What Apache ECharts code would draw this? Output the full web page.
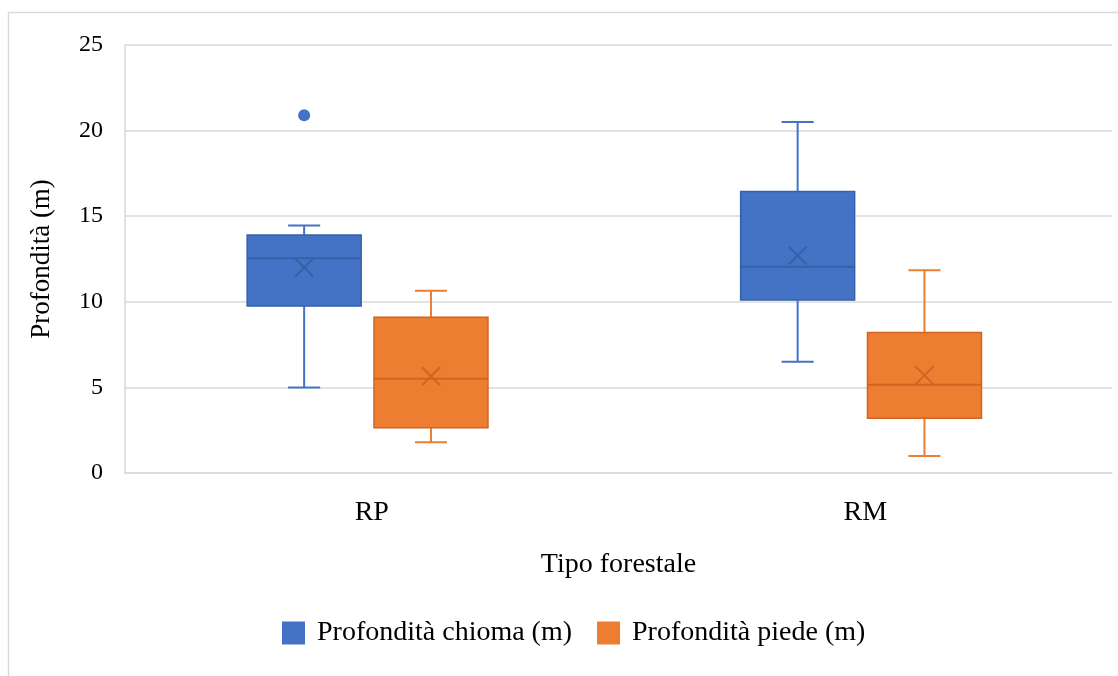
<!DOCTYPE html>
<html>
<head>
<meta charset="utf-8">
<script src="https://cdn.jsdelivr.net/npm/echarts@6/dist/echarts.min.js"></script>
<style>
  html, body { margin: 0; padding: 0; background: #fff; }
  #main { width: 1118px; height: 676px; }
</style>
</head>
<body>
<div id="main"></div>
<script>
// dati: [min, Q1, mediana, Q3, max]
var categories = ['RP', 'RM'];
var chiomaBox = [[5.0, 9.75, 12.55, 13.9, 14.45], [6.5, 10.1, 12.05, 16.45, 20.5]];
var chiomaMean = [12.0, 12.7];
var chiomaOutliers = [[0, 20.9]];
var piedeBox = [[1.8, 2.65, 5.5, 9.1, 10.65], [1.0, 3.2, 5.15, 8.2, 11.85]];
var piedeMean = [5.65, 5.7];
var yTicks = [0, 5, 10, 15, 20, 25];

var FONT = 'Liberation Serif';
var BOX_W = 0.231, CAP_W = 0.065;

function boxData(box, mean) {
    return box.map(function (b, i) { return [i].concat(b).concat([mean[i]]); });
}

function boxRenderer(off, fill, edge, whisk) {
    return function (params, api) {
        var i = api.value(0);
        var band = api.size([1, 0])[0];
        var cx = api.coord([i, 0])[0] + band * off;
        var w = band * BOX_W, c = band * CAP_W;
        var y = [1, 2, 3, 4, 5, 6].map(function (d) { return api.coord([i, api.value(d)])[1]; });
        var m = 9;
        var ls = { stroke: whisk, lineWidth: 2 };
        return {
            type: 'group',
            children: [
                { type: 'line', shape: { x1: cx, y1: y[4], x2: cx, y2: y[3] }, style: ls },
                { type: 'line', shape: { x1: cx, y1: y[0], x2: cx, y2: y[1] }, style: ls },
                { type: 'line', shape: { x1: cx - c / 2, y1: y[4], x2: cx + c / 2, y2: y[4] }, style: ls },
                { type: 'line', shape: { x1: cx - c / 2, y1: y[0], x2: cx + c / 2, y2: y[0] }, style: ls },
                { type: 'rect', shape: { x: cx - w / 2, y: y[3], width: w, height: y[1] - y[3] },
                  style: { fill: fill, stroke: edge, lineWidth: 1.5 } },
                { type: 'line', shape: { x1: cx - w / 2, y1: y[2], x2: cx + w / 2, y2: y[2] },
                  style: { stroke: edge, lineWidth: 2 } },
                { type: 'line', shape: { x1: cx - m, y1: y[5] - m, x2: cx + m, y2: y[5] + m },
                  style: { stroke: edge, lineWidth: 2 } },
                { type: 'line', shape: { x1: cx - m, y1: y[5] + m, x2: cx + m, y2: y[5] - m },
                  style: { stroke: edge, lineWidth: 2 } }
            ]
        };
    };
}

function outlierRenderer(off, fill) {
    return function (params, api) {
        var i = api.value(0);
        var band = api.size([1, 0])[0];
        var p = api.coord([i, api.value(1)]);
        return { type: 'circle', shape: { cx: p[0] + band * off, cy: p[1], r: 6 }, style: { fill: fill } };
    };
}

var myChart = echarts.init(document.getElementById('main'));
var option = {
    backgroundColor: '#fff',
    color: ['#4472C4', '#ED7D31'],
    textStyle: { fontFamily: FONT },
    graphic: [{
        type: 'rect', silent: true, z: -1,
        shape: { x: 8.5, y: 12.5, width: 1300, height: 900 },
        style: { fill: 'none', stroke: '#d9d9d9', lineWidth: 1.5 }
    }],
    grid: { left: 125, right: 6, top: 45, bottom: 203 },
    legend: {
        data: ['Profondità chioma (m)', 'Profondità piede (m)'],
        left: 282, top: 619, padding: 0,
        icon: 'rect', itemWidth: 23, itemHeight: 23, itemGap: 25,
        textStyle: { fontFamily: FONT, fontSize: 28, color: '#000', padding: [0, 0, 0, 7] }
    },
    xAxis: {
        type: 'category',
        data: categories,
        name: 'Tipo forestale',
        nameLocation: 'middle',
        nameGap: 78,
        nameTextStyle: { fontFamily: FONT, fontSize: 28, color: '#000' },
        axisLine: { lineStyle: { color: '#d9d9d9', width: 1.5 } },
        axisTick: { show: false },
        axisLabel: { fontFamily: FONT, fontSize: 28, color: '#000', margin: 26 }
    },
    yAxis: {
        type: 'value',
        min: yTicks[0], max: yTicks[yTicks.length - 1], interval: 5,
        name: 'Profondità (m)',
        nameLocation: 'middle',
        nameGap: 70,
        nameTextStyle: { fontFamily: FONT, fontSize: 27, color: '#000' },
        axisLine: { show: true, lineStyle: { color: '#d9d9d9', width: 1.5 } },
        axisTick: { show: false },
        axisLabel: { fontFamily: FONT, fontSize: 24, color: '#000', margin: 22 },
        splitLine: { lineStyle: { color: '#d9d9d9', width: 1.5 } }
    },
    series: [
        {
            name: 'Profondità chioma (m)', type: 'custom',
            itemStyle: { color: '#4472C4' },
            encode: { x: 0, y: [1, 2, 3, 4, 5, 6] },
            renderItem: boxRenderer(-0.137, '#4472C4', '#3660a8', '#4472C4'),
            data: boxData(chiomaBox, chiomaMean)
        },
        {
            name: 'Profondità chioma (m)', type: 'custom',
            itemStyle: { color: '#4472C4' },
            encode: { x: 0, y: 1 },
            renderItem: outlierRenderer(-0.137, '#4472C4'),
            data: chiomaOutliers
        },
        {
            name: 'Profondità piede (m)', type: 'custom',
            itemStyle: { color: '#ED7D31' },
            encode: { x: 0, y: [1, 2, 3, 4, 5, 6] },
            renderItem: boxRenderer(0.12, '#ED7D31', '#cf6524', '#ED7D31'),
            data: boxData(piedeBox, piedeMean)
        }
    ]
};
myChart.setOption(option);
window.onresize = myChart.resize;
</script>
</body>
</html>
